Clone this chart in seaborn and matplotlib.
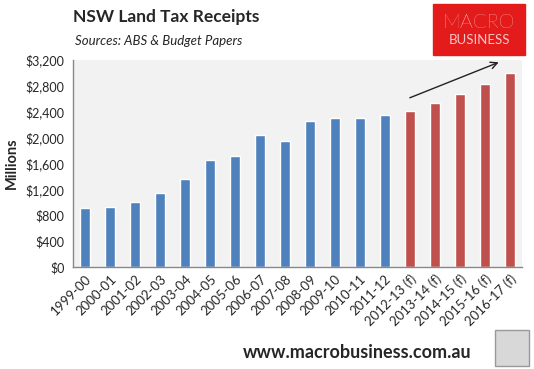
import matplotlib
matplotlib.use("Agg")
import matplotlib.pyplot as plt
import seaborn as sns
import pandas as pd
from matplotlib.patches import Rectangle
from matplotlib.ticker import FixedLocator, FuncFormatter

years = ['1999-00', '2000-01', '2001-02', '2002-03', '2003-04', '2004-05',
         '2005-06', '2006-07', '2007-08', '2008-09', '2009-10', '2010-11',
         '2011-12', '2012-13 (f)', '2013-14 (f)', '2014-15 (f)',
         '2015-16 (f)', '2016-17 (f)']
receipts = [910, 925, 1000, 1140, 1355, 1650, 1710, 2035, 1945, 2255,
            2300, 2300, 2350, 2410, 2535, 2675, 2830, 3000]
kind = ['actual'] * 13 + ['forecast'] * 5

df = pd.DataFrame({'year': years, 'receipts': receipts, 'kind': kind})

sns.set_style('white')
plt.rcParams['font.family'] = ['Lato', 'DejaVu Sans']

fig = plt.figure(figsize=(5.34, 3.69), dpi=100)
W, H = 534, 369
ax = fig.add_axes([73 / W, 1 - 267 / H, (522 - 73) / W, (267 - 60) / H])

sns.barplot(data=df, x='year', y='receipts', hue='kind',
            palette={'actual': '#4F81BD', 'forecast': '#C0504D'},
            width=0.4, dodge=False, legend=False, ax=ax, saturation=1)

n = len(years)
ax.set_facecolor('#F2F2F2')
ax.set_xlim(-0.5, n - 0.5)
ax.set_ylim(0, 3200)
ax.set_yticks(range(0, 3201, 400))
ax.yaxis.set_major_formatter(FuncFormatter(lambda v, p: f'${int(v):,}'))
ax.tick_params(axis='y', length=4, color='#888888', labelsize=9, pad=2)
ax.tick_params(axis='x', which='major', length=0, labelsize=9.5, pad=4)
ax.xaxis.set_minor_locator(FixedLocator([i - 0.5 for i in range(n + 1)]))
ax.tick_params(axis='x', which='minor', length=4, color='#888888')
plt.setp(ax.get_xticklabels(), rotation=45, ha='right', rotation_mode='anchor')
for s in ['top', 'right']:
    ax.spines[s].set_visible(False)
for s in ['left', 'bottom']:
    ax.spines[s].set_color('#888888')
    ax.spines[s].set_linewidth(1)
ax.set_xlabel('')
ax.set_ylabel('Millions', fontsize=10.5, fontweight='bold', labelpad=5)

ax.annotate('', xy=(16.67, 3180), xytext=(12.9, 2600),
            arrowprops=dict(arrowstyle='->', color='#222222', lw=1,
                            mutation_scale=12))

fig.text(73 / W, 1 - 17 / H, 'NSW Land Tax Receipts', fontsize=12.5,
         fontweight='bold', va='center', ha='left')
fig.text(75 / W, 1 - 41 / H, 'Sources: ABS & Budget Papers', fontsize=9.5,
         style='italic', va='center', ha='left')
fig.text(243 / W, 1 - 353 / H, 'www.macrobusiness.com.au', fontsize=13,
         fontweight='bold', va='center', ha='left')

# logo box
fig.patches.append(Rectangle((433 / W, 1 - 55 / H), 92 / W, 51 / H,
                             transform=fig.transFigure, color='#E31B1B'))
fig.text(479 / W, 1 - 23 / H, 'MACRO', color='white', fontsize=14.5,
         fontweight='light', ha='center', va='center')
fig.text(479 / W, 1 - 40 / H, 'BUSINESS', color='#F4C8C8', fontsize=9.5,
         ha='center', va='center')
fig.patches.append(Rectangle((495 / W, 1 - 366 / H), 34 / W, 36 / H,
                             transform=fig.transFigure, facecolor='#D8D8D8',
                             edgecolor='#999999', lw=1))

fig.savefig('out.png', dpi=100)
